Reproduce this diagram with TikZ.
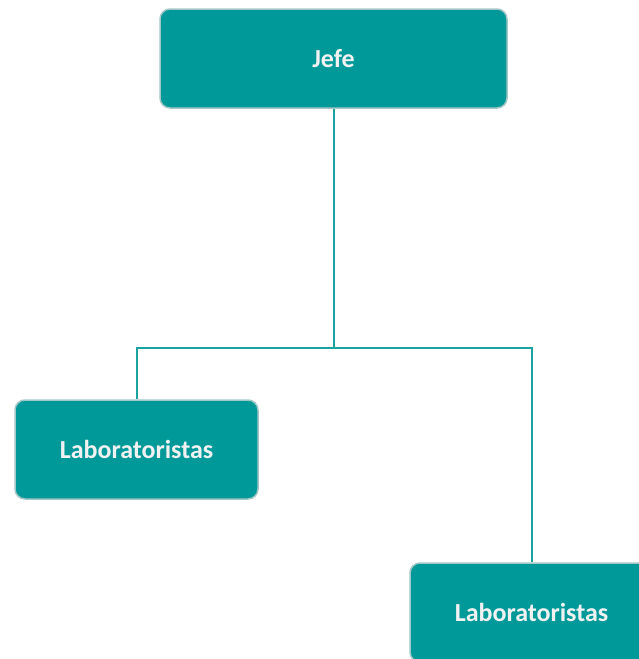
\documentclass[tikz,border=0pt]{standalone}
\usepackage{fontspec}
\setmainfont{Carlito}
\usetikzlibrary{positioning}
\definecolor{boxfill}{HTML}{009999}
\definecolor{boxline}{HTML}{A3C6C6}
\definecolor{wire}{HTML}{1AA3A3}
\definecolor{boxtext}{HTML}{F2F2F2}
\tikzset{
  unit/.style={draw=boxline,line width=1.5pt,fill=boxfill,rounded corners=10pt,minimum width=243pt,minimum height=99pt,text=boxtext,font=\fontsize{26}{30}\selectfont\bfseries},
  link/.style={draw=wire,line width=2pt}
}

\begin{document}
\begin{tikzpicture}[x=1pt,y=-1pt]
\useasboundingbox (0,0) rectangle (638,659);

\node[unit,minimum width=347pt] (jefe) at (333.5,58.5) {Jefe};
\node[unit] (labA) at (136.5,449.5) {Laboratoristas};
\node[unit] (labB) at (531.5,612.5) {Laboratoristas};

\coordinate (split) at (333.5,348);
\draw[link] (jefe.south) -- (split);
\draw[link] (split) -| (labA.north);
\draw[link] (split) -| (labB.north);

\end{tikzpicture}
\end{document}
